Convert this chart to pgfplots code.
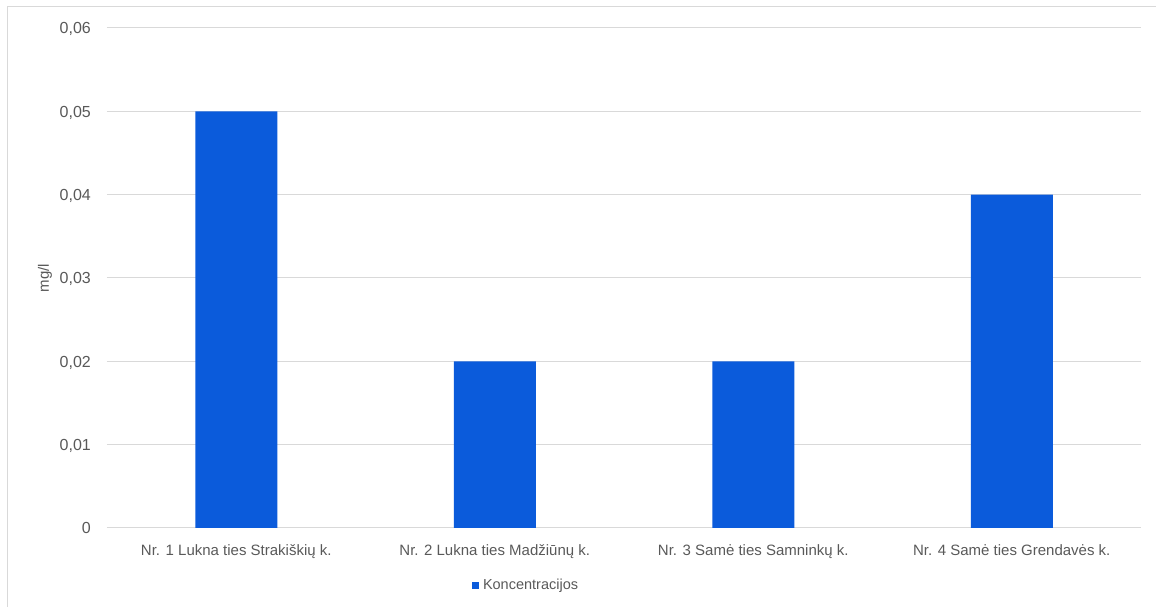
\documentclass[border=0pt]{standalone}
\usepackage{fontspec}
\setmainfont{Liberation Sans}
\usepackage{pgfplots}
\pgfplotsset{compat=1.18}

\definecolor{barblue}{HTML}{0B5BDB}
\definecolor{gridgray}{HTML}{D9D9D9}
\definecolor{textgray}{HTML}{595959}
\definecolor{framegray}{HTML}{D9D9D9}

\begin{document}
\fontsize{16pt}{19pt}\selectfont
\begin{tikzpicture}
\useasboundingbox (-107pt,-79pt) rectangle (1049pt,528pt);
% outer chart frame
\draw[framegray, line width=1pt] (-99pt,-79pt) -- (-99pt,521pt) -- (1049pt,521pt);
\begin{axis}[
  at={(0pt,0pt)}, anchor=south west,
  scale only axis,
  width=1034pt, height=500pt,
  ybar, bar width=82pt,
  xmin=-0.5, xmax=3.5,
  ymin=0, ymax=0.06,
  scaled y ticks=false,
  xtick=data,
  xticklabels={Nr. 1 Lukna ties Strakiškių k., Nr. 2 Lukna ties Madžiūnų k., Nr. 3 Samė ties Samninkų k., Nr. 4 Samė ties Grendavės k.},
  ytick={0,0.01,0.02,0.03,0.04,0.05,0.06},
  yticklabels={0,{0,01},{0,02},{0,03},{0,04},{0,05},{0,06}},
  axis line style={draw=none},
  major tick length=0pt,
  ymajorgrids,
  major grid style={gridgray, line width=1pt},
  tick label style={text=textgray},
  yticklabel style={font=\fontsize{16pt}{19pt}\selectfont, anchor=base east, inner sep=0pt, xshift=-16pt, yshift=-5.7pt},
  xticklabel style={font=\fontsize{15pt}{18pt}\selectfont, anchor=base, inner sep=0pt, yshift=-28pt},
  ylabel={mg/l},
  ylabel style={at={(axis description cs:-0.06,0.5)}, anchor=center, font=\fontsize{15pt}{18pt}\selectfont, text=textgray, inner sep=0pt},
  legend style={at={(365pt,-57pt)}, anchor=west, draw=none, fill=none,
    inner sep=0pt, outer sep=0pt, column sep=4pt,
    nodes={inner sep=0pt, text=textgray},
    font=\fontsize{14.5pt}{17pt}\selectfont},
  legend image code/.code={\fill[#1] (0pt,-3.5pt) rectangle (7pt,3.5pt);},
]
\addplot[fill=barblue, draw=none] coordinates {(0,0.05) (1,0.02) (2,0.02) (3,0.04)};
\addlegendentry{Koncentracijos}
\end{axis}
\end{tikzpicture}
\end{document}
